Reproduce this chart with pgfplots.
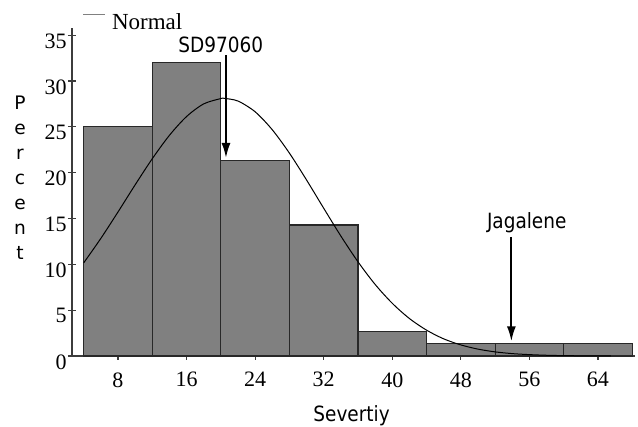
\documentclass[border=0pt]{standalone}
\usepackage{fontspec}
\setmainfont{Liberation Serif}
\newfontfamily\dvs{DejaVu Sans}
\newfontfamily\dvc{DejaVu Sans}[FakeStretch=0.88]
\usepackage{pgfplots}
\pgfplotsset{compat=1.18}
\usetikzlibrary{arrows.meta}
\definecolor{barfill}{RGB}{128,128,128}
\definecolor{baredge}{RGB}{40,40,40}
\definecolor{axcol}{RGB}{60,60,60}
\begin{document}
\begin{tikzpicture}
\begin{axis}[
  at={(0pt,0pt)}, anchor=south west,
  scale only axis, width=281.4pt, height=164.1pt,
  xmin=2.633, xmax=68.3, ymin=0, ymax=35.8,
  axis x line*=bottom, axis y line*=left,
  axis line style={axcol, line width=0.6pt, -},
  xtick={8,16,...,64}, ytick={0,5,...,35},
  tick align=center, major tick length=4pt,
  tick style={axcol, line width=0.6pt},
  /pgf/number format/assume math mode=true,
  xticklabel style={font=\fontsize{11}{13}\selectfont, anchor=north, inner sep=0pt, yshift=-6pt},
  yticklabel style={font=\fontsize{11}{13}\selectfont, anchor=north east, inner sep=0pt, xshift=-0.5pt, yshift=1pt},
  clip=false,
]
\addplot[ybar interval, fill=barfill, draw=baredge, line width=0.6pt] coordinates {
  (4,25) (12,32) (20,21.3) (28,14.3) (36,2.7) (44,1.4) (52,1.4) (60,1.4) (68,1.4)};
\addplot[black, line width=0.5pt, smooth, no markers] coordinates {
  (4,10.16) (6,12.83) (8,15.71) (10,18.67) (12,21.52) (14,24.07) (16,26.12) (18,27.50)
  (20,28.08) (20.4,28.1) (22,27.81) (24,26.64) (26,24.68) (28,22.13) (30,19.20) (32,16.12)
  (34,13.09) (36,10.28) (38,7.81) (40,5.75) (42,4.09) (44,2.82) (46,1.87) (48,1.21)
  (50,0.75) (52,0.45) (54,0.26) (56,0.15) (58,0.08) (60,0.04) (62,0.02) (64,0.01) (65.5,0.0)};
\draw[black, line width=1pt, -{Latex[length=7.5pt,width=4.5pt]}] (axis cs:20.6,32.8) -- (axis cs:20.6,21.6);
\draw[black, line width=1pt, -{Latex[length=7.5pt,width=4.5pt]}] (axis cs:53.9,13.0) -- (axis cs:53.9,1.6);
\end{axis}
\draw[gray, line width=0.5pt] (5.5pt,170.5pt) -- (16.5pt,170.5pt);
\node[anchor=base west, inner sep=0pt, font=\fontsize{11.5}{13}\selectfont] at (19.8pt,163.3pt) {Normal};
\node[anchor=base west, inner sep=0pt, font=\dvc\fontsize{10.5}{12}\selectfont] at (53pt,151.65pt) {SD97060};
\node[anchor=base west, inner sep=0pt, font=\dvc\fontsize{10.5}{12}\selectfont] at (207.3pt,63.85pt) {Jagalene};
\node[anchor=base west, inner sep=0pt, font=\dvc\fontsize{10.5}{12}\selectfont] at (120.5pt,-32.8pt) {Severtiy};
\foreach \l [count=\i] in {P,e,r,c,e,n,t}
  \node[anchor=base, inner sep=0pt, font=\dvs\fontsize{9.3}{10}\selectfont] at (-26pt,{(123-(\i-1)*12.5)*1pt}) {\l};
\pgfresetboundingbox
\useasboundingbox (-36pt,-35.5pt) rectangle (283pt,178pt);
\end{tikzpicture}
\end{document}
